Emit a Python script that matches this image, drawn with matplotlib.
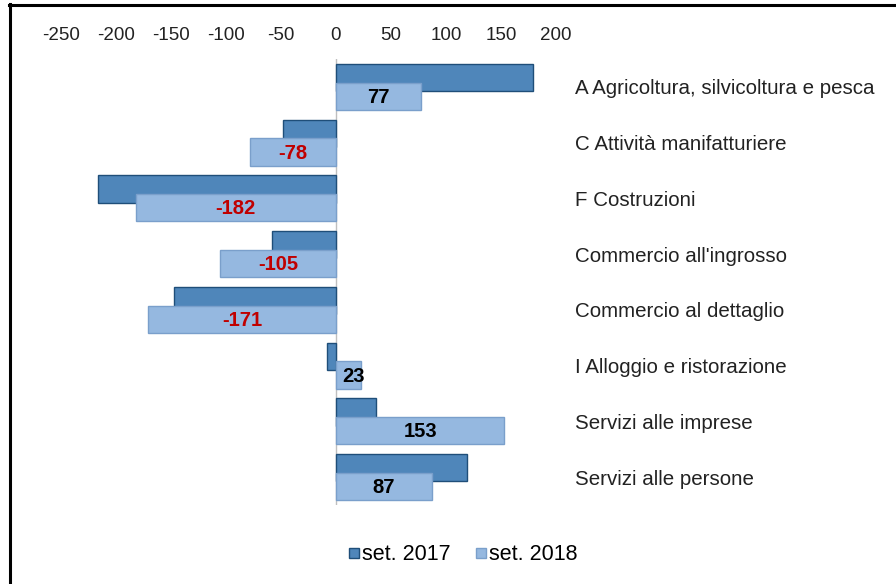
import matplotlib
matplotlib.use("Agg")
import matplotlib.pyplot as plt
from matplotlib.lines import Line2D
import numpy as np

plt.rcParams["font.family"] = ["Liberation Sans", "DejaVu Sans"]

categories = [
    "A Agricoltura, silvicoltura e pesca",
    "C Attività manifatturiere",
    "F Costruzioni",
    "Commercio all'ingrosso",
    "Commercio al dettaglio",
    "I Alloggio e ristorazione",
    "Servizi alle imprese",
    "Servizi alle persone",
]
set_2017 = [179, -48, -216, -58, -147, -8, 36, 119]
set_2018 = [77, -78, -182, -105, -171, 23, 153, 87]
series_labels = ["set. 2017", "set. 2018"]
x_ticks = [-250, -200, -150, -100, -50, 0, 50, 100, 150, 200]

c17, e17 = "#4F86BA", "#1F4E79"
c18, e18 = "#95B8E0", "#7A9FCB"

fig = plt.figure(figsize=(8.96, 5.84), dpi=100)
ax = fig.add_axes([0.068, 0.1353, 0.5525, 0.7637])

y = np.arange(len(categories))
off = 0.167
h = 0.49
ax.barh(y - off, set_2017, height=h, color=c17, edgecolor=e17, linewidth=1.0, zorder=2)
bars18 = ax.barh(y + off, set_2018, height=h, color=c18, edgecolor=e18, linewidth=1.0, zorder=3)

for b, v in zip(bars18, set_2018):
    cx = b.get_x() + b.get_width() / 2
    if abs(v) < 40:
        # short bar: label sits a bit to the right, as in the source
        cx += 4
    ax.text(cx, b.get_y() + b.get_height() / 2 + 0.02, f"{v}",
            ha="center", va="center", fontsize=14.5, fontweight="bold",
            color="#C00000" if v < 0 else "black", zorder=4)

ax.axvline(0, color="#BFBFBF", linewidth=1.0, zorder=1)
ax.set_xlim(-250, 200)
ax.set_ylim(len(categories) - 0.5, -0.5)
ax.set_xticks(x_ticks)
ax.set_xticklabels([str(t) for t in x_ticks])
ax.xaxis.tick_top()
ax.tick_params(axis="x", length=0, pad=11, labelsize=13.5, colors="#222222")
ax.set_yticks(y)
ax.set_yticklabels(categories)
ax.yaxis.tick_right()
ax.tick_params(axis="y", length=0, pad=14, labelsize=14.8, colors="#222222")
for s in ax.spines.values():
    s.set_visible(False)

handles = [
    Line2D([], [], marker="s", linestyle="none", markersize=7,
           markerfacecolor=c17, markeredgecolor=e17),
    Line2D([], [], marker="s", linestyle="none", markersize=7,
           markerfacecolor=c18, markeredgecolor=e18),
]
fig.legend(handles, series_labels, loc="center", bbox_to_anchor=(463 / 896, 1 - 555 / 584),
           ncol=2, frameon=False, fontsize=15.5, handlelength=0.5, handletextpad=0.1,
           columnspacing=1.2)

# frame lines of the original screenshot
fig.add_artist(Line2D([9 / 896, 1], [1 - 5 / 584, 1 - 5 / 584], color="black", linewidth=2.2,
                      transform=fig.transFigure))
fig.add_artist(Line2D([10 / 896, 10 / 896], [0, 1 - 4 / 584], color="black", linewidth=2.2,
                      transform=fig.transFigure))

fig.savefig("out.png", dpi=100)
